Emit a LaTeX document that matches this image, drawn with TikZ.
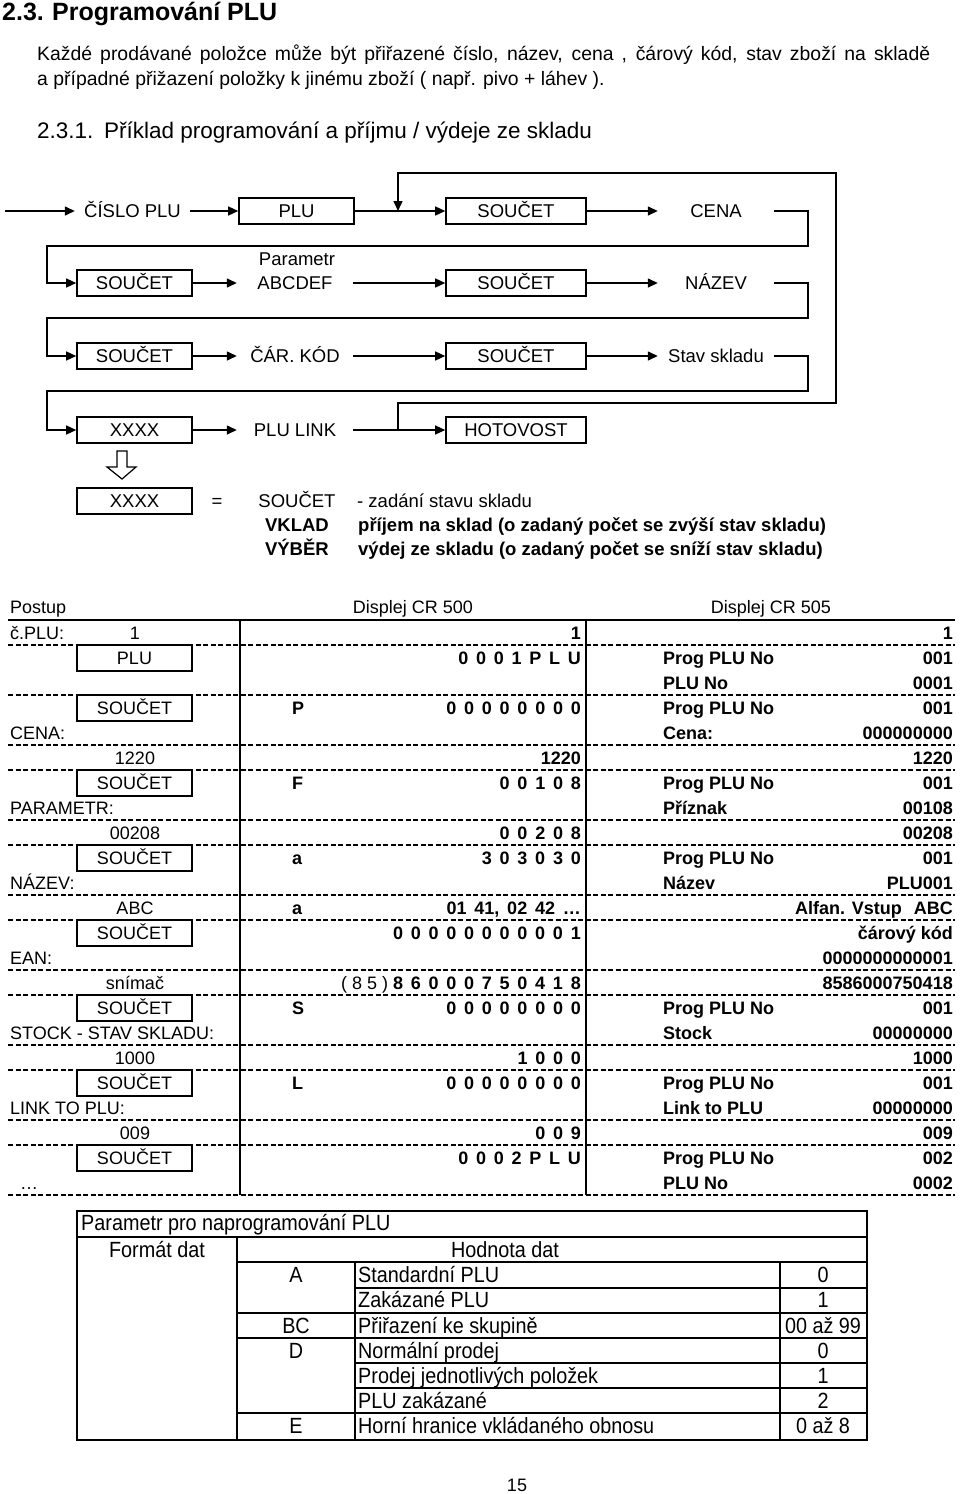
\documentclass[tikz,border=0pt]{standalone}
\usepackage{fontspec}
\setmainfont{Liberation Sans}
\newfontfamily\wsfont[WordSpace=1.55]{Liberation Sans}
\newfontfamily\narrowfont[FakeStretch=0.9]{Liberation Sans}
\usetikzlibrary{arrows.meta}
\newcommand\fsF{\fontsize{18.5pt}{22pt}\selectfont}
\newcommand\fsT{\fontsize{18pt}{22pt}\selectfont}
\newcommand\fsP{\fontsize{19.4pt}{23pt}\selectfont}
\newcommand\fsH{\fontsize{22.5pt}{26pt}\selectfont}
\newcommand\fsHH{\fontsize{25pt}{29pt}\selectfont}
\newcommand\fsB{\narrowfont\fontsize{22pt}{26pt}\selectfont}
\begin{document}
\begin{tikzpicture}[x=1pt,y=-1pt,
 txt/.style={inner sep=0pt, text height=13pt, text depth=0pt, font=\fsF},
 tt/.style={inner sep=0pt, text height=13pt, text depth=0pt, font=\fsT},
 tb/.style={tt, font=\fsT\bfseries},
 tw/.style={tt, font=\wsfont\fsT\bfseries},
 bx/.style={draw, line width=1.6pt, minimum width=115pt, minimum height=26pt, inner sep=0pt, text height=13pt, text depth=0pt, font=\fsF},
 wbx/.style={bx, minimum width=140pt},
 lbl/.style={txt, minimum width=116pt},
 arr/.style={line width=1.4pt, -{Triangle[length=10pt,width=9pt]}},
 ln/.style={line width=1.4pt},
 dl/.style={line width=1.1pt, dash pattern=on 5pt off 2.5pt},
 sl/.style={line width=2pt},
 bt/.style={inner sep=0pt, text height=15.5pt, text depth=0pt, font=\fsB},
]
\useasboundingbox (0,0) rectangle (960,1494);

% headings
\node[inner sep=0pt, anchor=base west, font=\fsHH\bfseries] (h1a) at (2,20) {2.3.};
\node[inner sep=0pt, anchor=base west, font=\fsHH\bfseries] (h1b) at (52,20) {Programování PLU};
\node[inner sep=0pt, anchor=base west, font=\fsP] (p1) at (37,60) {\hbox to 893pt{Každé prodávané položce může být přiřazené číslo, název, cena , čárový kód, stav zboží na skladě}};
\node[inner sep=0pt, anchor=base west, font=\fsP] (p2) at (37,85) {a případné přižazení položky k jinému zboží ( např. pivo + láhev ).};
\node[inner sep=0pt, anchor=base west, font=\fsH] (h2a) at (37,138) {2.3.1.};
\node[inner sep=0pt, anchor=base west, font=\fsH] (h2b) at (104,138) {Příklad programování a příjmu / výdeje ze skladu};

% flow row 1
\coordinate (s0) at (5,211);
\node[lbl, minimum width=115pt] (cislo) at (132.5,211) {ČÍSLO PLU};
\node[bx] (plu) at (296.5,211) {PLU};
\node[wbx] (s1) at (516,211) {SOUČET};
\node[lbl] (cena) at (716,211) {CENA};
\draw[arr] (s0) -- (cislo.west);
\draw[arr] (cislo.east) -- (plu.west);
\draw[arr] (plu.east) -- (s1.west);
\draw[arr] (s1.east) -- (cena.west);

% flow row 2
\node[bx] (s2a) at (134.5,283) {SOUČET};
\node[lbl] (abc) at (295,283) {ABCDEF};
\node[txt] (par) at (297,259) {Parametr};
\node[wbx] (s2b) at (516,283) {SOUČET};
\node[lbl] (nazev) at (716,283) {NÁZEV};
\draw[arr] (s2a.east) -- (abc.west);
\draw[arr] (abc.east) -- (s2b.west);
\draw[arr] (s2b.east) -- (nazev.west);

% flow row 3
\node[bx] (s3a) at (134.5,356) {SOUČET};
\node[lbl] (car) at (295,356) {ČÁR. KÓD};
\node[wbx] (s3b) at (516,356) {SOUČET};
\node[lbl] (stav) at (716,356) {Stav skladu};
\draw[arr] (s3a.east) -- (car.west);
\draw[arr] (car.east) -- (s3b.west);
\draw[arr] (s3b.east) -- (stav.west);

% flow row 4
\node[bx] (x4) at (134.5,430) {XXXX};
\node[lbl] (link) at (295,430) {PLU LINK};
\node[wbx] (hot) at (516,430) {HOTOVOST};
\draw[arr] (x4.east) -- (link.west);
\draw[arr] (link.east) -- (hot.west);

% return loops
\draw[arr] (cena.east) -- (808,211) |- (47,246) |- (s2a.west);
\draw[arr] (nazev.east) -- (808,283) |- (47,318) |- (s3a.west);
\draw[arr] (stav.east) -- (808,356) |- (47,391) |- (x4.west);
\coordinate (j1) at (398,211);
\coordinate (j4) at (398,430);
\draw[arr] (j4) |- (836,403) |- (398,173) -- (j1);

% hollow arrow
\draw[line width=1.2pt, fill=white] (117,451) -- (127,451) -- (127,467) -- (136,467) -- (122,479) -- (107,467) -- (117,467) -- cycle;

% row 5
\node[bx] (x5) at (134.5,501) {XXXX};
\node[txt] (eq) at (217,501) {=};
\node[txt] (sou5) at (297,501) {SOUČET};
\node[txt, anchor=west] (zad) at (357,501) {- zadání stavu skladu};
\node[txt, anchor=east, font=\fsF\bfseries] (vk) at (329,525) {VKLAD};
\node[txt, anchor=west, font=\fsF\bfseries] (vkt) at (358,525) {příjem na sklad (o zadaný počet se zvýší stav skladu)};
\node[txt, anchor=east, font=\fsF\bfseries] (vy) at (329,549) {VÝBĚR};
\node[txt, anchor=west, font=\fsF\bfseries] (vyt) at (358,549) {výdej ze skladu (o zadaný počet se sníží stav skladu)};

% table header
\node[tt, anchor=west] (hp) at (10,607) {Postup};
\node[tt] (h500) at (413,607) {Displej CR 500};
\node[tt] (h505) at (771,607) {Displej CR 505};
\draw[sl] (8,620) -- (955,620);
\foreach \y in {645,695,745,770,820,845,895,920,970,995,1045,1070,1120,1145,1195}
  \draw[dl] (8,\y) -- (955,\y);
\draw[sl] (240,620) -- (240,1195);
\draw[sl] (586,620) -- (586,1195);

% table rows
\node[tt, anchor=west] (l0) at (10,633) {č.PLU:};
\node[tt] (v0) at (135,633) {1};
\node[tw, anchor=east] (c0) at (581,633) {1};
\node[tb, anchor=east] (d0) at (953,633) {1};

\node[bx, font=\fsT] (b1) at (134.5,658) {PLU};
\node[tw, anchor=east] (c1) at (581,658) {0 0 0 1 P L U};
\node[tb, anchor=west] (e1) at (663,658) {Prog PLU No};
\node[tb, anchor=east] (d1) at (953,658) {001};
\node[tb, anchor=west] (e2) at (663,683) {PLU No};
\node[tb, anchor=east] (d2) at (953,683) {0001};

\node[bx, font=\fsT] (b3) at (134.5,708) {SOUČET};
\node[tb, anchor=west] (m3) at (292,708) {P};
\node[tw, anchor=east] (c3) at (581,708) {0 0 0 0 0 0 0 0};
\node[tb, anchor=west] (e3) at (663,708) {Prog PLU No};
\node[tb, anchor=east] (d3) at (953,708) {001};
\node[tt, anchor=west] (l4) at (10,733) {CENA:};
\node[tb, anchor=west] (e4) at (663,733) {Cena:};
\node[tb, anchor=east] (d4) at (953,733) {000000000};

\node[tt] (v5) at (135,758) {1220};
\node[tw, anchor=east] (c5) at (581,758) {1220};
\node[tb, anchor=east] (d5) at (953,758) {1220};

\node[bx, font=\fsT] (b6) at (134.5,783) {SOUČET};
\node[tb, anchor=west] (m6) at (292,783) {F};
\node[tw, anchor=east] (c6) at (581,783) {0 0 1 0 8};
\node[tb, anchor=west] (e6) at (663,783) {Prog PLU No};
\node[tb, anchor=east] (d6) at (953,783) {001};
\node[tt, anchor=west] (l7) at (10,808) {PARAMETR:};
\node[tb, anchor=west] (e7) at (663,808) {Příznak};
\node[tb, anchor=east] (d7) at (953,808) {00108};

\node[tt] (v8) at (135,833) {00208};
\node[tw, anchor=east] (c8) at (581,833) {0 0 2 0 8};
\node[tb, anchor=east] (d8) at (953,833) {00208};

\node[bx, font=\fsT] (b9) at (134.5,858) {SOUČET};
\node[tb, anchor=west] (m9) at (292,858) {a};
\node[tw, anchor=east] (c9) at (581,858) {3 0 3 0 3 0};
\node[tb, anchor=west] (e9) at (663,858) {Prog PLU No};
\node[tb, anchor=east] (d9) at (953,858) {001};
\node[tt, anchor=west] (l10) at (10,883) {NÁZEV:};
\node[tb, anchor=west] (e10) at (663,883) {Název};
\node[tb, anchor=east] (d10) at (953,883) {PLU001};

\node[tt] (v11) at (135,908) {ABC};
\node[tb, anchor=west] (m11) at (292,908) {a};
\node[tw, anchor=east] (c11) at (581,908) {01 41, 02 42 …};
\node[tb, anchor=east] (d11) at (953,908) {Alfan. Vstup\hspace{12pt}ABC};

\node[bx, font=\fsT] (b12) at (134.5,933) {SOUČET};
\node[tw, anchor=east] (c12) at (581,933) {0 0 0 0 0 0 0 0 0 0 1};
\node[tb, anchor=east] (d12) at (953,933) {čárový kód};
\node[tt, anchor=west] (l13) at (10,958) {EAN:};
\node[tb, anchor=east] (d13) at (953,958) {0000000000001};

\node[tt] (v14) at (135,983) {snímač};
\node[tt, anchor=east] (c14) at (581,983) {( 8 5 ) {\wsfont\bfseries 8 6 0 0 0 7 5 0 4 1 8}};
\node[tb, anchor=east] (d14) at (953,983) {8586000750418};

\node[bx, font=\fsT] (b15) at (134.5,1008) {SOUČET};
\node[tb, anchor=west] (m15) at (292,1008) {S};
\node[tw, anchor=east] (c15) at (581,1008) {0 0 0 0 0 0 0 0};
\node[tb, anchor=west] (e15) at (663,1008) {Prog PLU No};
\node[tb, anchor=east] (d15) at (953,1008) {001};
\node[tt, anchor=west] (l16) at (10,1033) {STOCK - STAV SKLADU:};
\node[tb, anchor=west] (e16) at (663,1033) {Stock};
\node[tb, anchor=east] (d16) at (953,1033) {00000000};

\node[tt] (v17) at (135,1058) {1000};
\node[tw, anchor=east] (c17) at (581,1058) {1 0 0 0};
\node[tb, anchor=east] (d17) at (953,1058) {1000};

\node[bx, font=\fsT] (b18) at (134.5,1083) {SOUČET};
\node[tb, anchor=west] (m18) at (292,1083) {L};
\node[tw, anchor=east] (c18) at (581,1083) {0 0 0 0 0 0 0 0};
\node[tb, anchor=west] (e18) at (663,1083) {Prog PLU No};
\node[tb, anchor=east] (d18) at (953,1083) {001};
\node[tt, anchor=west] (l19) at (10,1108) {LINK TO PLU:};
\node[tb, anchor=west] (e19) at (663,1108) {Link to PLU};
\node[tb, anchor=east] (d19) at (953,1108) {00000000};

\node[tt] (v20) at (135,1133) {009};
\node[tw, anchor=east] (c20) at (581,1133) {0 0 9};
\node[tb, anchor=east] (d20) at (953,1133) {009};

\node[bx, font=\fsT] (b21) at (134.5,1158) {SOUČET};
\node[tw, anchor=east] (c21) at (581,1158) {0 0 0 2 P L U};
\node[tb, anchor=west] (e21) at (663,1158) {Prog PLU No};
\node[tb, anchor=east] (d21) at (953,1158) {002};
\node[tt, anchor=west] (l22) at (20,1183) {…};
\node[tb, anchor=west] (e22) at (663,1183) {PLU No};
\node[tb, anchor=east] (d22) at (953,1183) {0002};

% bottom table
\draw[line width=1.2pt] (237,1237) -- (237,1440);
\draw[line width=1.2pt] (237,1262) -- (867,1262);
\draw[line width=1.2pt] (355,1262) -- (355,1440);
\draw[line width=1.2pt] (780,1262) -- (780,1440);
\draw[line width=1.2pt] (355,1288) -- (867,1288);
\draw[line width=1.2pt] (237,1313) -- (867,1313);
\draw[line width=1.2pt] (237,1338) -- (867,1338);
\draw[line width=1.2pt] (355,1363) -- (867,1363);
\draw[line width=1.2pt] (355,1388) -- (867,1388);
\draw[line width=1.2pt] (237,1413) -- (867,1413);
\draw[line width=2.6pt] (77,1237) -- (867,1237);
\draw[line width=2.6pt] (77,1211) rectangle (867,1440);

\node[bt, anchor=west] (t0) at (81,1223) {Parametr pro naprogramování PLU};
\node[bt] (t1) at (157,1250) {Formát dat};
\node[bt] (t2) at (505,1250) {Hodnota dat};
\node[bt] (ka) at (296,1275) {A};
\node[bt, anchor=west] (ta1) at (358,1275) {Standardní PLU};
\node[bt] (va1) at (823,1275) {0};
\node[bt, anchor=west] (ta2) at (358,1300) {Zakázané PLU};
\node[bt] (va2) at (823,1300) {1};
\node[bt] (kbc) at (296,1326) {BC};
\node[bt, anchor=west] (tbc) at (358,1326) {Přiřazení ke skupině};
\node[bt] (vbc) at (823,1326) {00 až 99};
\node[bt] (kd) at (296,1351) {D};
\node[bt, anchor=west] (td1) at (358,1351) {Normální prodej};
\node[bt] (vd1) at (823,1351) {0};
\node[bt, anchor=west] (td2) at (358,1376) {Prodej jednotlivých položek};
\node[bt] (vd2) at (823,1376) {1};
\node[bt, anchor=west] (td3) at (358,1401) {PLU zakázané};
\node[bt] (vd3) at (823,1401) {2};
\node[bt] (ke) at (296,1426) {E};
\node[bt, anchor=west] (te) at (358,1426) {Horní hranice vkládaného obnosu};
\node[bt] (ve) at (823,1426) {0 až 8};

\node[tt] (pg) at (517,1485) {15};
\end{tikzpicture}
\end{document}
